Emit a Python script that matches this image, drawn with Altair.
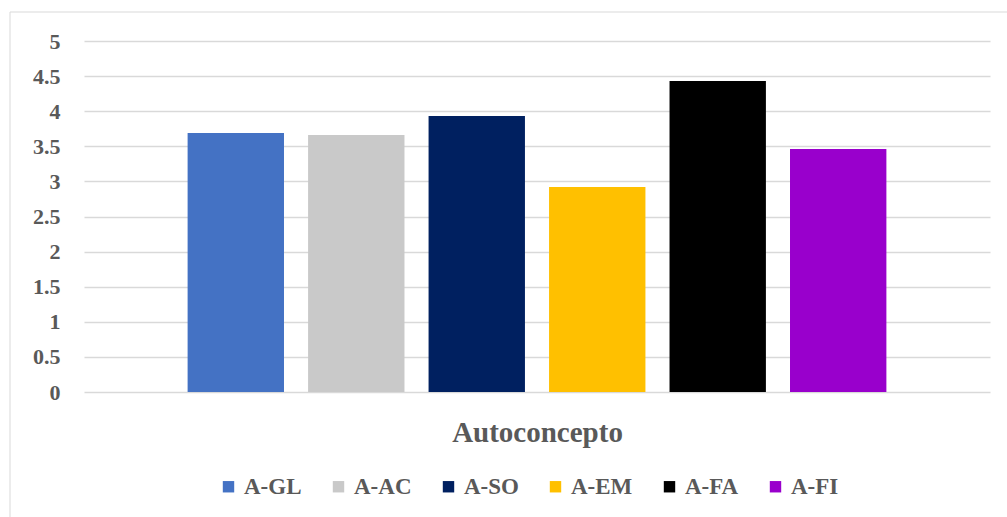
import altair as alt
import pandas as pd

series = ["A-GL", "A-AC", "A-SO", "A-EM", "A-FA", "A-FI"]
values = [3.69, 3.66, 3.93, 2.92, 4.43, 3.46]
colors = ["#4472C4", "#C9C9C9", "#002060", "#FFC000", "#000000", "#9900CC"]
category = "Autoconcepto"
y_ticks = [0, 0.5, 1, 1.5, 2, 2.5, 3, 3.5, 4, 4.5, 5]

df = pd.DataFrame({"serie": series, "valor": values, "cat": [category] * len(series)})

FONT = "Liberation Serif"
GREY = "#595959"

bars = alt.Chart(df).mark_bar().encode(
    x=alt.X("serie:N", sort=series,
            scale=alt.Scale(paddingInner=0.2, paddingOuter=0.86),
            axis=alt.Axis(labels=False, ticks=False, domain=False, grid=False, title=category,
                          titleFont=FONT, titleFontSize=29, titleFontWeight="bold",
                          titleColor=GREY, titlePadding=26)),
    y=alt.Y("valor:Q", scale=alt.Scale(domain=[0, 5], nice=False),
            axis=alt.Axis(values=y_ticks, labelExpr="datum.value", title=None,
                          domain=False, ticks=False, labelPadding=24,
                          labelFont=FONT, labelFontSize=22, labelFontWeight="bold",
                          labelColor=GREY, gridColor="#D9D9D9", gridWidth=1.5)),
    color=alt.Color("serie:N", sort=series,
                    scale=alt.Scale(domain=series, range=colors),
                    legend=alt.Legend(title=None, orient="none", direction="horizontal",
                                      legendX=133, legendY=434,
                                      symbolType="square", symbolSize=130,
                                      symbolStrokeWidth=0, labelFont=FONT,
                                      labelFontSize=23, labelFontWeight="bold",
                                      labelColor=GREY, columnPadding=25,
                                      labelOffset=4)),
)

border = alt.Chart(pd.DataFrame({"a": [0]})).mark_rule(color="#D9D9D9", strokeWidth=1)
left_b = border.encode(x=alt.value(-74), y=alt.value(-29), y2=alt.value(480))
top_b = border.encode(x=alt.value(-74), x2=alt.value(925), y=alt.value(-29))

chart = alt.layer(bars, left_b, top_b).properties(
    width=906, height=351,
    background="white",
    autosize=alt.AutoSizeParams(type="none"),
    padding={"left": 84, "top": 41, "right": 17, "bottom": 126},
).configure_view(strokeWidth=0, stroke="transparent")

chart.save("out.html", embed_options={"renderer": "svg", "actions": False})
